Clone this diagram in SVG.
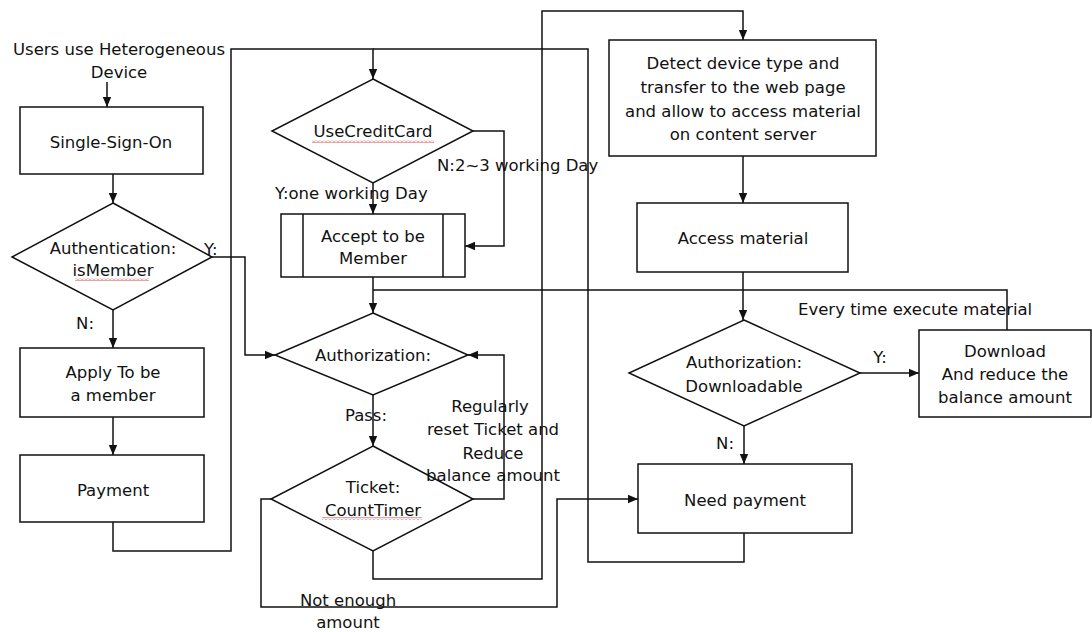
<svg xmlns="http://www.w3.org/2000/svg" width="1092" height="632" viewBox="0 0 1092 632">
  <defs>
    <marker id="arr" markerUnits="userSpaceOnUse" markerWidth="12" markerHeight="10" refX="10" refY="5" orient="auto">
      <path d="M0,0.8 L10,5 L0,9.2 Z" fill="#111"/>
    </marker>
    <pattern id="wavy" patternUnits="userSpaceOnUse" width="4" height="3">
      <path d="M0,2.5 L2,0.5 L4,2.5" fill="none" stroke="#d03030" stroke-width="0.9"/>
    </pattern>
  </defs>
  <style>
    .box{fill:#fff;stroke:#111;stroke-width:1.5}
    .ln{fill:none;stroke:#111;stroke-width:1.5}
    .ar{marker-end:url(#arr)}
    text{font-family:"DejaVu Sans",Verdana,sans-serif;font-size:16.5px;fill:#111}
    .c{text-anchor:middle}
    .sq{fill:url(#wavy)}
  </style>
  <rect width="1092" height="632" fill="#fff"/>

  <g id="connectors">
    <path class="ln ar" d="M107,82 V107"/>
    <path class="ln ar" d="M113,174 V203"/>
    <path class="ln ar" d="M212,257 H245 V355 H275"/>
    <path class="ln ar" d="M113,310 V348"/>
    <path class="ln ar" d="M113,417 V455"/>
    <path class="ln ar" d="M113,522 V551 H231 V49 H373 V79"/>
    <path class="ln" d="M744,533 V562 H588 V49 H373"/>
    <path class="ln ar" d="M373,183 V214"/>
    <path class="ln ar" d="M473,131 H504 V246 H465"/>
    <path class="ln ar" d="M373,277 V313"/>
    <path class="ln" d="M1007,330 V290 H373"/>
    <path class="ln ar" d="M373,395 V446"/>
    <path class="ln ar" d="M473,499 H504 V355 H468"/>
    <path class="ln ar" d="M373,551 V579 H542 V11 H743 V40"/>
    <path class="ln ar" d="M271,499 H261 V607 H557 V499 H638"/>
    <path class="ln ar" d="M743,156 V203"/>
    <path class="ln ar" d="M743,272 V320"/>
    <path class="ln ar" d="M860,373 H919"/>
    <path class="ln ar" d="M744,426 V464"/>
  </g>

  <g id="start">
    <text class="c" x="119" y="55">Users use Heterogeneous</text>
    <text class="c" x="119" y="78">Device</text>
  </g>

  <g id="sso">
    <rect class="box" x="20" y="107" width="183" height="67"/>
    <text class="c" x="111" y="148">Single-Sign-On</text>
  </g>

  <g id="authentication">
    <polygon class="box" points="113,203 212,257 113,310 12,257"/>
    <text class="c" x="113" y="254">Authentication:</text>
    <text class="c" x="113" y="276">isMember</text>
    <rect class="sq" x="75" y="278" width="74" height="3"/>
  </g>

  <g id="apply">
    <rect class="box" x="20" y="348" width="184" height="69"/>
    <text class="c" x="113" y="378">Apply To be</text>
    <text class="c" x="113" y="401">a member</text>
  </g>

  <g id="payment">
    <rect class="box" x="20" y="455" width="184" height="67"/>
    <text class="c" x="113" y="496">Payment</text>
  </g>

  <g id="usecreditcard">
    <polygon class="box" points="373,79 473,131 373,183 272,131"/>
    <text class="c" x="373" y="137">UseCreditCard</text>
    <rect class="sq" x="312" y="140" width="122" height="3"/>
  </g>

  <g id="accept">
    <rect class="box" x="281" y="214" width="184" height="63"/>
    <line class="ln" x1="303" y1="214" x2="303" y2="277"/>
    <line class="ln" x1="443" y1="214" x2="443" y2="277"/>
    <text class="c" x="373" y="242">Accept to be</text>
    <text class="c" x="373" y="264">Member</text>
  </g>

  <g id="authorization">
    <polygon class="box" points="373,313 468,355 373,395 275,355"/>
    <text class="c" x="373" y="361">Authorization:</text>
  </g>

  <g id="ticket">
    <polygon class="box" points="373,446 473,499 373,551 271,499"/>
    <text class="c" x="373" y="493">Ticket:</text>
    <text class="c" x="373" y="516">CountTimer</text>
    <rect class="sq" x="322" y="517" width="100" height="3"/>
  </g>

  <g id="detect">
    <rect class="box" x="609" y="40" width="267" height="116"/>
    <text class="c" x="743" y="69">Detect device type and</text>
    <text class="c" x="743" y="93">transfer to the web page</text>
    <text class="c" x="743" y="117">and allow to access material</text>
    <text class="c" x="743" y="140">on content server</text>
  </g>

  <g id="access">
    <rect class="box" x="637" y="203" width="211" height="69"/>
    <text class="c" x="743" y="244">Access material</text>
  </g>

  <g id="downloadable">
    <polygon class="box" points="744,320 860,373 744,426 629,373"/>
    <text class="c" x="744" y="368">Authorization:</text>
    <text class="c" x="744" y="392">Downloadable</text>
  </g>

  <g id="download">
    <rect class="box" x="919" y="330" width="172" height="87"/>
    <text class="c" x="1005" y="357">Download</text>
    <text class="c" x="1005" y="380">And reduce the</text>
    <text class="c" x="1005" y="403">balance amount</text>
  </g>

  <g id="needpayment">
    <rect class="box" x="638" y="464" width="214" height="69"/>
    <text class="c" x="745" y="506">Need payment</text>
  </g>

  <g id="labels">
    <text x="204" y="255">Y:</text>
    <text class="c" x="85" y="329">N:</text>
    <text x="437" y="171">N:2~3 working Day</text>
    <text x="275" y="199">Y:one working Day</text>
    <text class="c" x="366" y="421">Pass:</text>
    <text class="c" x="490" y="412">Regularly</text>
    <text class="c" x="493" y="435">reset Ticket and</text>
    <text class="c" x="493" y="459">Reduce</text>
    <text class="c" x="493" y="481">balance amount</text>
    <text class="c" x="348" y="606">Not enough</text>
    <text class="c" x="348" y="628">amount</text>
    <text x="798" y="315">Every time execute material</text>
    <text class="c" x="880" y="363">Y:</text>
    <text class="c" x="725" y="449">N:</text>
  </g>
</svg>
